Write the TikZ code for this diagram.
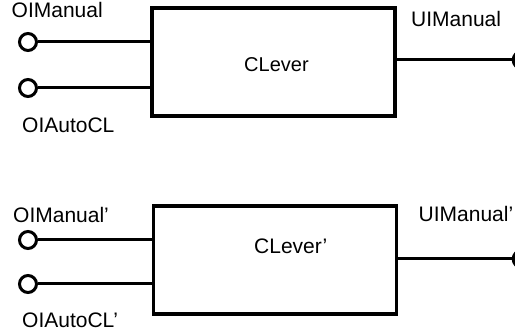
\documentclass[tikz,border=0pt]{standalone}
\usepackage{fontspec}
\setmainfont{Liberation Sans}
\begin{document}
\begin{tikzpicture}[x=1pt,y=-1pt,
  blockbox/.style={draw, line width=3.5pt, minimum width=243pt, minimum height=108pt, inner sep=0pt},
  port/.style={draw, circle, line width=3pt, minimum size=17pt, inner sep=0pt},
  wire/.style={line width=3pt},
  lbl/.style={anchor=base west, inner sep=0pt, font=\fontsize{21}{25}\selectfont}]
\useasboundingbox (0,0) rectangle (515,334);
% top block
\node[blockbox] (c1) at (273.4,62) {};
\node[lbl, font=\fontsize{20}{24}\selectfont] (t1) at (244,71.7) {CLever};
\node[port] (a1) at (28,42) {};
\node[port] (b1) at (28,88) {};
\node[port] (o1) at (521.7,60) {};
\draw[wire] (a1) -- (a1 -| c1.west);
\draw[wire] (b1) -- (b1 -| c1.west);
\draw[wire] (o1 -| c1.east) -- (o1);
\node[lbl] (la1) at (11.5,17.3) {OIManual};
\node[lbl] (lb1) at (22,133) {OIAutoCL};
\node[lbl] (lo1) at (411,26.7) {UIManual};
% bottom block
\node[blockbox] (c2) at (275,260) {};
\node[lbl] (t2) at (254,254) {CLever'};
\node[port] (a2) at (28,240) {};
\node[port] (b2) at (28,284) {};
\node[port] (o2) at (521.7,259) {};
\draw[wire] (a2) -- (a2 -| c2.west);
\draw[wire] (b2) -- (b2 -| c2.west);
\draw[wire] (o2 -| c2.east) -- (o2);
\node[lbl] (la2) at (13,223) {OIManual'};
\node[lbl] (lb2) at (22,327) {OIAutoCL'};
\node[lbl] (lo2) at (418.5,222) {UIManual'};
\end{tikzpicture}
\end{document}
